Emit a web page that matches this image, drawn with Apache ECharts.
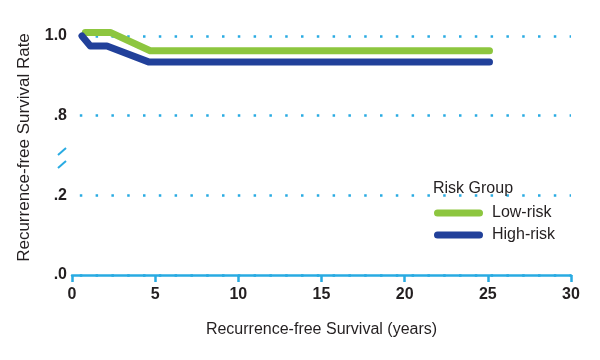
<!DOCTYPE html>
<html>
<head>
<meta charset="utf-8">
<script src="https://cdn.jsdelivr.net/npm/echarts@6/dist/echarts.min.js"></script>
<style>html,body{margin:0;padding:0;background:#fff;}#c{width:600px;height:360px;}</style>
</head>
<body>
<div id="c"></div>
<script>
// ---- data ----
const seriesNames = ['Low-risk', 'High-risk'];
const lowRiskX = [0.8, 2.3, 4.7, 25.1];
const lowRiskY = [1.009, 1.009, 0.963, 0.963];
const highRiskX = [0.6, 1.1, 2.1, 4.6, 25.1];
const highRiskY = [1.0, 0.975, 0.975, 0.935, 0.935];
const yTickValues = [0, 0.2, 0.8, 1.0];
const yTickLabels = ['.0', '.2', '.8', '1.0'];
const xTicks = [0, 5, 10, 15, 20, 25, 30];

// broken-axis scale: .0–.2 | break | .8–1.0, each segment one unit tall
function yScale(v) {
  if (v <= 0.2) return v / 0.2;
  if (v >= 0.8) return 2 + (v - 0.8) / 0.2;
  return 1 + (v - 0.2) / 0.6;
}

const ink = '#231f20';
const cyan = '#29abe2';
const green = '#8dc63f';
const blue = '#21409a';
const font = 'Liberation Sans, Arial, sans-serif';
const pill = 'path://M3.5,0 L45.5,0 A3.5,3.5 0 0 1 45.5,7 L3.5,7 A3.5,3.5 0 0 1 3.5,0 Z';

const chart = echarts.init(document.getElementById('c'), null, {renderer: 'canvas'});
chart.setOption({
  animation: false,
  textStyle: {fontFamily: font},
  grid: {left: 72, right: 29, top: 36, bottom: 85, containLabel: false},
  title: {
    text: 'Risk Group', left: 428, top: 176,
    textStyle: {fontSize: 16, fontWeight: 'normal', color: ink, fontFamily: font}
  },
  legend: {
    orient: 'vertical', left: 434, top: 205, padding: 0, itemWidth: 49, itemHeight: 7, itemGap: 6,
    textStyle: {fontSize: 16, color: ink, padding: [0, 0, 0, 4]},
    data: [
      {name: seriesNames[0], icon: pill},
      {name: seriesNames[1], icon: pill}
    ]
  },
  xAxis: {
    type: 'value', min: xTicks[0], max: xTicks[xTicks.length - 1], interval: 5,
    name: 'Recurrence-free Survival (years)', nameLocation: 'middle', nameGap: 47,
    nameTextStyle: {fontSize: 16, color: ink},
    axisLine: {show: true, lineStyle: {color: cyan, width: 2.5}},
    axisTick: {show: true, length: 7, lineStyle: {color: cyan, width: 2.5}},
    axisLabel: {fontSize: 16, fontWeight: 'bold', color: ink, margin: 12},
    splitLine: {show: false}
  },
  yAxis: {
    type: 'value', min: 0, max: 3, interval: 1,
    name: 'Recurrence-free Survival Rate', nameLocation: 'middle', nameGap: 39,
    nameTextStyle: {fontSize: 17, color: ink, padding: [0, 0, 0, 16]},
    axisLine: {show: false}, axisTick: {show: false},
    axisLabel: {
      fontSize: 16, fontWeight: 'bold', color: ink, margin: 5,
      formatter: function (t) {
        const i = yTickValues.map(yScale).findIndex(function (s) { return Math.abs(s - t) < 1e-6; });
        return i >= 0 ? yTickLabels[i] : '';
      }
    },
    splitLine: {show: true, lineStyle: {color: cyan, width: 2.5, type: [2.5, 13.3], dashOffset: 8}}
  },
  graphic: [
    {type: 'line', shape: {x1: 58, y1: 155, x2: 66, y2: 148}, style: {stroke: cyan, lineWidth: 2}},
    {type: 'line', shape: {x1: 58, y1: 168, x2: 66, y2: 161}, style: {stroke: cyan, lineWidth: 2}}
  ],
  series: [
    {
      name: seriesNames[0], type: 'line', showSymbol: false, clip: false, color: green,
      lineStyle: {width: 7, color: green, cap: 'round', join: 'round'},
      data: lowRiskX.map(function (x, i) { return [x, yScale(lowRiskY[i])]; })
    },
    {
      name: seriesNames[1], type: 'line', showSymbol: false, clip: false, color: blue,
      lineStyle: {width: 7, color: blue, cap: 'round', join: 'round'},
      data: highRiskX.map(function (x, i) { return [x, yScale(highRiskY[i])]; })
    }
  ]
});
</script>
</body>
</html>
